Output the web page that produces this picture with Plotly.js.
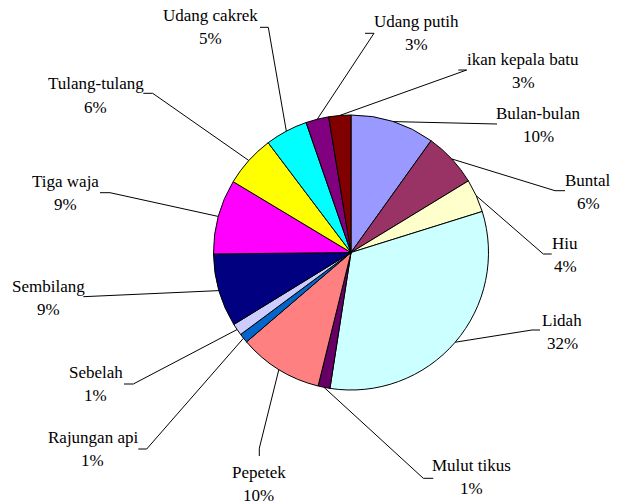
<!DOCTYPE html>
<html>
<head>
<meta charset="utf-8">
<script src="https://cdn.plot.ly/plotly-3.0.1.min.js"></script>
</head>
<body style="margin:0;background:#ffffff">
<div id="chart"></div>
<script>
// ---- data ----
var categories = ["Bulan-bulan","Buntal","Hiu","Lidah","Mulut tikus","Pepetek","Rajungan api","Sebelah","Sembilang","Tiga waja","Tulang-tulang","Udang cakrek","Udang putih","ikan kepala batu"];
var values = [9.9, 6.4, 3.9, 32.3, 1.4, 9.9, 1.1, 1.4, 8.6, 8.8, 6.1, 5.0, 2.7, 2.6];
var colors = ["#9999FF","#993366","#FFFFCC","#CCFFFF","#660066","#FF8080","#0066CC","#CCCCFF","#000080","#FF00FF","#FFFF00","#00FFFF","#800080","#800000"];

// ---- layout (pixel positions of labels and leader elbows) ----
var W = 618, H = 504;
var CX = 351, CY = 252.5, R = 137.5;
var labelPos = [[538.8,113.3],[588.3,180],[565,243.3],[562,320],[471.7,465],[258.7,472.7],[92.5,437.3],[95.8,372.7],[48.3,286.7],[65.3,181.7],[96,84],[210.5,15.7],[416,21.7],[523.3,59.3]];
var leaderPts = [
  [[497,124]],
  [[555,190.7],[565,190.7]],
  [[543.3,254],[551.7,254]],
  [[532,330],[540,330]],
  [[423.3,478.3],[433.3,478.3]],
  [[259.3,448.3],[259.3,456]],
  [[146.7,449],[138.3,449]],
  [[133.3,384],[124,384]],
  [[83.3,296.7]],
  [[110,192.7],[100,192.7]],
  [[152.7,93.3],[143.3,93.3]],
  [[268.3,27.3],[260,27.3]],
  [[374,33.3],[365,33.3]],
  [[466.7,70],[458.3,70]]
];
var pctGap = 23;
var FONT = "Times New Roman";

function px(x){return x/W;}
function py(y){return 1 - y/H;}

var total = values.reduce(function(a,b){return a+b;},0);
var shapes = [], annotations = [];
var cum = 0;
for (var i=0;i<values.length;i++){
  var mid = (cum + values[i]/2)/total * 2*Math.PI;
  cum += values[i];
  var ax = CX + R*Math.sin(mid), ay = CY - R*Math.cos(mid);
  var path = "M " + px(ax) + " " + py(ay);
  leaderPts[i].forEach(function(p){ path += " L " + px(p[0]) + " " + py(p[1]); });
  shapes.push({type:"path", xref:"paper", yref:"paper", path:path, line:{color:"#000000", width:1}});
  var pct = Math.round(values[i]/total*100) + "%";
  annotations.push({xref:"paper", yref:"paper", x:px(labelPos[i][0]), y:py(labelPos[i][1]), text:categories[i], showarrow:false, xanchor:"center", yanchor:"middle", font:{family:FONT, size:17, color:"#000000"}});
  annotations.push({xref:"paper", yref:"paper", x:px(labelPos[i][0]), y:py(labelPos[i][1]+pctGap), text:pct, showarrow:false, xanchor:"center", yanchor:"middle", font:{family:FONT, size:17, color:"#000000"}});
}

var trace = {
  type:"pie",
  labels:categories,
  values:values,
  sort:false,
  direction:"clockwise",
  rotation:0,
  textinfo:"none",
  marker:{colors:colors, line:{color:"#000000", width:1}},
  domain:{x:[(CX-R)/W,(CX+R)/W], y:[(H-CY-R)/H,(H-CY+R)/H]}
};

var layout = {
  width:W, height:H,
  margin:{l:0,r:0,t:0,b:0},
  font:{family:FONT},
  showlegend:false,
  shapes:shapes,
  annotations:annotations
};

Plotly.newPlot("chart",[trace],layout,{staticPlot:true});
</script>
</body>
</html>
